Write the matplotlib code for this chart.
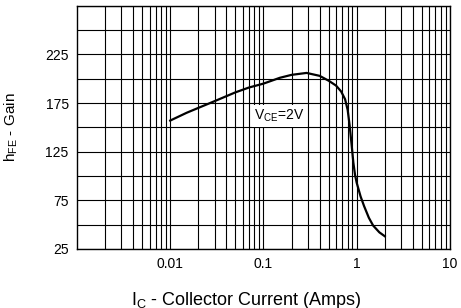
import matplotlib
matplotlib.use("Agg")
import matplotlib.pyplot as plt
from matplotlib.ticker import FixedLocator, LogLocator, NullFormatter, FixedFormatter

plt.rcParams['font.family'] = ['Liberation Sans', 'DejaVu Sans']
plt.rcParams['mathtext.fontset'] = 'custom'
plt.rcParams['mathtext.rm'] = 'Liberation Sans'

# collector current (A) and dc current gain
ic = [0.01, 0.015, 0.02, 0.03, 0.05, 0.07, 0.1, 0.15, 0.2, 0.29, 0.4, 0.5,
      0.6, 0.68, 0.75, 0.8, 0.84, 0.88, 0.92, 0.96, 1.0, 1.1, 1.2, 1.35, 1.5, 1.75, 2.0]
hfe = [157, 165, 170, 177, 186, 191, 195, 201, 204, 206, 203, 198,
       193, 187, 179, 168, 152, 133, 114, 101, 93, 79, 69, 57, 49, 42, 38]

y_labels = [25, 75, 125, 175, 225]
y_minor = [50, 100, 150, 200, 250, 275]
x_ticks = [0.01, 0.1, 1, 10]
x_ticklabels = ['0.01', '0.1', '1', '10']

fig = plt.figure(figsize=(4.61, 3.08), dpi=100)
ax = fig.add_axes([0.167, 0.192, 0.809, 0.789])

ax.plot(ic, hfe, color='black', lw=1.6, zorder=5)

ax.set_xscale('log')
ax.set_xlim(0.001, 10)
ax.set_ylim(25, 275)

ax.xaxis.set_major_locator(FixedLocator(x_ticks))
ax.xaxis.set_major_formatter(FixedFormatter(x_ticklabels))
ax.xaxis.set_minor_locator(LogLocator(base=10, subs=range(2, 10)))
ax.xaxis.set_minor_formatter(NullFormatter())
ax.yaxis.set_major_locator(FixedLocator(y_labels))
ax.yaxis.set_minor_locator(FixedLocator(y_minor))

ax.grid(True, which='both', color='black', lw=0.8)
ax.tick_params(which='both', length=0, labelsize=10, pad=6)
for s in ax.spines.values():
    s.set_linewidth(1.0)

ax.text(0.08, 162, r'V$_{\mathregular{CE}}$=2V', fontsize=10, va='center', ha='left',
        bbox=dict(facecolor='white', edgecolor='none', pad=2), zorder=6)

ax.set_ylabel(r'h$_{\mathregular{FE}}$ - Gain', fontsize=11)
ax.yaxis.set_label_coords(-0.153, 0.5)
ax.set_xlabel(r'I$_{\mathregular{C}}$ - Collector Current (Amps)', fontsize=13)
ax.xaxis.set_label_coords(0.455, -0.168)

fig.savefig('out.png', dpi=100)
